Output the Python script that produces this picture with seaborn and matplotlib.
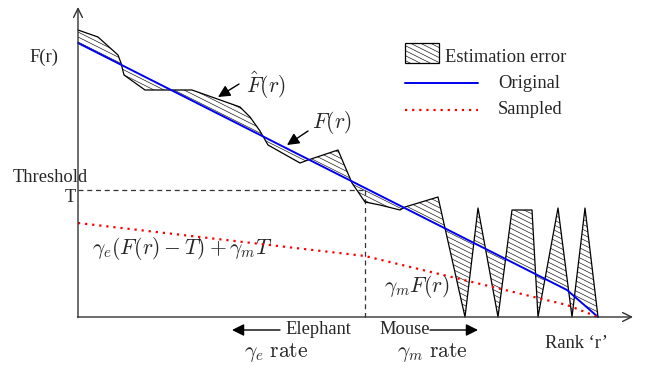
import numpy as np
import matplotlib
matplotlib.use("Agg")
import matplotlib.pyplot as plt
import seaborn as sns
from matplotlib.patches import Polygon, Rectangle

sns.set_style("white")
plt.rcParams["font.family"] = ["Liberation Serif", "DejaVu Serif"]
plt.rcParams["mathtext.fontset"] = "cm"

# ---- data (rank on x, frequency F on y, arbitrary units) ----
rank_orig = [0, 489, 520]
f_orig = [274, 27, 0]

rank_est = [0, 20, 40, 43, 46, 67, 114, 162, 172, 182, 190, 222, 230, 260, 274,
            287, 302, 322, 327, 360, 387, 400, 420, 434, 454, 460, 480, 494, 507, 520]
f_est = [287, 280, 262, 254, 242, 227, 227, 210, 200, 186, 172, 154, 157, 167, 134,
         115, 112, 107, 110, 120, 0, 109, 0, 107, 107, 0, 109, 0, 109, 0]

rank_sampled = [0, 287, 489, 520]
f_sampled = [94, 61, 12, 0]

threshold_rank = 287
threshold_T = 127

AX_COLOR = "#333333"
FS_TEXT = 13.3
FS_MATH = 15.5

fig = plt.figure(figsize=(6.49, 3.69), dpi=100)
ax = fig.add_axes([0, 0, 1, 1])
ax.set_xlim(-78, 571)
ax.set_ylim(-52, 317)
ax.axis("off")


def hatch_patch(patch, spacing=5.0, slope=0.5, lw=0.5):
    """Add patch and fill it with clipped diagonal hatch lines."""
    ax.add_patch(patch)
    for c in np.arange(-300, 700, spacing):
        xs = np.array([-100, 700])
        ln, = ax.plot(xs, c - slope * xs, color="#222222", lw=lw, zorder=2)
        ln.set_clip_path(patch)


# estimation error band between F-hat and F
band = Polygon(list(zip(rank_est, f_est)) + list(zip(rank_orig[::-1], f_orig[::-1])),
               closed=True, fill=False, lw=0, zorder=1)
hatch_patch(band)

# threshold guides
ax.plot([0, threshold_rank], [threshold_T, threshold_T], ls=(0, (4, 3)),
        color=AX_COLOR, lw=0.9, zorder=2)
ax.plot([threshold_rank, threshold_rank], [threshold_T, 0], ls=(0, (4, 3)),
        color=AX_COLOR, lw=0.9, zorder=2)

# curves
sns.lineplot(x=rank_est, y=f_est, ax=ax, color="black", lw=0.9, sort=False,
             estimator=None, legend=False, zorder=3)
sns.lineplot(x=rank_orig, y=f_orig, ax=ax, color="#0000ee", lw=1.4, sort=False,
             estimator=None, legend=False, zorder=4)
sns.lineplot(x=rank_sampled, y=f_sampled, ax=ax, color="red", lw=1.6, sort=False,
             estimator=None, legend=False, zorder=4, linestyle=(0, (1, 2.2)))

# axes with arrow heads
axis_arrow = dict(arrowstyle="->", color=AX_COLOR, lw=1.0, mutation_scale=16,
                  shrinkA=0, shrinkB=0)
ax.annotate("", xy=(0, 310), xytext=(0, -0.5), arrowprops=axis_arrow, zorder=5)
ax.annotate("", xy=(555, 0), xytext=(-0.5, 0), arrowprops=axis_arrow, zorder=5)

# labels on axes
ax.text(-34, 260, "F(r)", fontsize=FS_TEXT, ha="center", va="center")
ax.text(-28, 140, "Threshold", fontsize=FS_TEXT, ha="center", va="center")
ax.text(-2, 120, "T", fontsize=FS_TEXT, ha="right", va="center")
ax.text(498, -26, "Rank \u2018r\u2019", fontsize=FS_TEXT, ha="center", va="center")

# curve annotations
pointer = dict(arrowstyle="-|>", color="black", lw=1.0, mutation_scale=18,
               shrinkA=0, shrinkB=0)
ax.text(188, 232, r"$\hat{F}(r)$", fontsize=FS_MATH, ha="center", va="center")
ax.annotate("", xy=(140, 220), xytext=(161, 233), arrowprops=pointer)
ax.text(254, 194, r"$F(r)$", fontsize=FS_MATH, ha="center", va="center")
ax.annotate("", xy=(209, 172), xytext=(230, 186), arrowprops=pointer)
ax.text(104, 69, r"$\gamma_e(F(r)-T)+\gamma_m T$", fontsize=FS_MATH,
        ha="center", va="center")
ax.text(339, 31, r"$\gamma_m F(r)$", fontsize=FS_MATH, ha="center", va="center")

# elephant / mouse regions
ax.text(240, -13, "Elephant", fontsize=FS_TEXT, ha="center", va="center")
ax.annotate("", xy=(154, -13), xytext=(202, -13), arrowprops=pointer)
ax.text(327, -13, "Mouse", fontsize=FS_TEXT, ha="center", va="center")
ax.annotate("", xy=(400, -13), xytext=(352, -13), arrowprops=pointer)
ax.text(198, -35, r"$\gamma_e\ \mathrm{rate}$", fontsize=FS_MATH,
        ha="center", va="center")
ax.text(354, -35, r"$\gamma_m\ \mathrm{rate}$", fontsize=FS_MATH,
        ha="center", va="center")

# legend
legend_box = Rectangle((327, 254), 34, 20, fill=False, lw=0.9,
                       edgecolor="black", zorder=3)
hatch_patch(Rectangle((327, 254), 34, 20, fill=False, lw=0))
ax.add_patch(legend_box)
ax.text(367, 259, "Estimation error", fontsize=FS_TEXT, ha="left", va="center")
ax.plot([327, 400], [234, 234], color="#0000ee", lw=1.4)
ax.text(420, 234, "Original", fontsize=FS_TEXT, ha="left", va="center")
ax.plot([327, 400], [207, 207], color="red", lw=1.6, linestyle=(0, (1, 2.2)))
ax.text(420, 207, "Sampled", fontsize=FS_TEXT, ha="left", va="center")

fig.savefig("out.png", dpi=100)
